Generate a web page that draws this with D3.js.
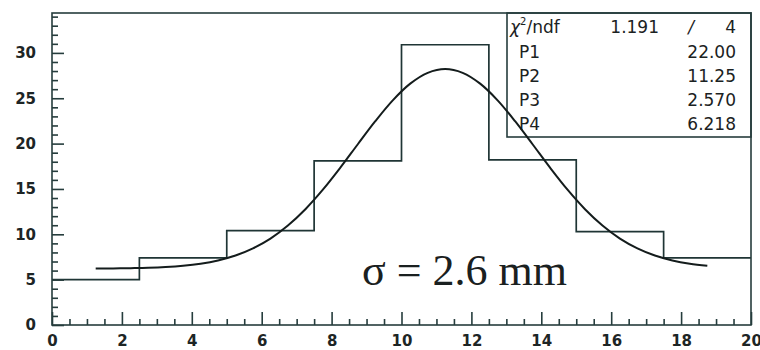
<!DOCTYPE html>
<html>
<head>
<meta charset="utf-8">
<script src="https://cdn.jsdelivr.net/npm/d3@7"></script>
<style>
  html, body { margin: 0; padding: 0; background: #fff; }
  svg { display: block; }
</style>
</head>
<body>
<svg id="chart" width="760" height="350"></svg>
<script>
// Histogram: bin edges and contents
const binEdges = [0, 2.5, 5, 7.5, 10, 12.5, 15, 17.5, 20];
const binCounts = [5.0, 7.4, 10.4, 18.1, 30.9, 18.2, 10.3, 7.4];

// Fitted curve (gaussian + constant), sampled along x
const fitX = [1.25, 1.75, 2.25, 2.75, 3.25, 3.75, 4.25, 4.75, 5.25, 5.75, 6.25, 6.75,
              7.25, 7.75, 8.25, 8.75, 9.25, 9.75, 10.25, 10.75, 11.25, 11.75, 12.25,
              12.75, 13.25, 13.75, 14.25, 14.75, 15.25, 15.75, 16.25, 16.75, 17.25,
              17.75, 18.25, 18.75];
const fitY = [6.23, 6.24, 6.27, 6.31, 6.39, 6.53, 6.76, 7.12, 7.66, 8.45, 9.53, 10.97,
              12.77, 14.92, 17.35, 19.93, 22.47, 24.77, 26.61, 27.80, 28.22, 27.80, 26.61,
              24.77, 22.47, 19.93, 17.35, 14.92, 12.77, 10.97, 9.53, 8.45, 7.66,
              7.12, 6.76, 6.53];

// Axis ticks
const xMajorTicks = [0, 2, 4, 6, 8, 10, 12, 14, 16, 18, 20];
const yMajorTicks = [0, 5, 10, 15, 20, 25, 30];

// Fit statistics box
const statLabels = ["P1", "P2", "P3", "P4"];
const statValues = ["22.00", "11.25", "2.570", "6.218"];
const chi2 = "1.191";
const ndf = "4";

const annotation = "σ = 2.6 mm";

const frame = { left: 52, right: 751, top: 13, bottom: 325 };
const frameColor = "#263d3d";
const histColor = "#1f3535";
const curveColor = "#141c1c";

const svg = d3.select("#chart");

const x = d3.scaleLinear().domain([0, 20]).range([frame.left, frame.right]);
const y = d3.scaleLinear().domain([0, 34.4]).range([frame.bottom, frame.top]);

// Stats box (behind the curve)
const box = { x0: 507, y1: 137 };
svg.append("rect")
  .attr("x", box.x0).attr("y", frame.top)
  .attr("width", frame.right - box.x0).attr("height", box.y1 - frame.top)
  .attr("fill", "#fff").attr("stroke", frameColor).attr("stroke-width", 1.6);

const statFont = "'DejaVu Sans', sans-serif";
const rowBase = [33, 58, 82, 106, 130];
const chiText = svg.append("text")
  .attr("x", 510).attr("y", rowBase[0])
  .attr("font-family", statFont).attr("font-size", 17).attr("fill", "#1b2222");
chiText.append("tspan").attr("font-style", "italic").text("χ");
chiText.append("tspan").attr("font-size", 10).attr("dy", -8).text("2");
chiText.append("tspan").attr("dy", 8).text("/ndf");
svg.append("text").attr("x", 659).attr("y", rowBase[0]).attr("text-anchor", "end")
  .attr("font-family", statFont).attr("font-size", 17).attr("fill", "#1b2222").text(chi2);
svg.append("text").attr("x", 691).attr("y", rowBase[0]).attr("text-anchor", "middle")
  .attr("font-family", statFont).attr("font-size", 17).attr("font-style", "italic")
  .attr("fill", "#1b2222").text("/");
svg.append("text").attr("x", 736).attr("y", rowBase[0]).attr("text-anchor", "end")
  .attr("font-family", statFont).attr("font-size", 17).attr("fill", "#1b2222").text(ndf);

statLabels.forEach((lab, i) => {
  svg.append("text").attr("x", 519).attr("y", rowBase[i + 1])
    .attr("font-family", statFont).attr("font-size", 17).attr("fill", "#1b2222").text(lab);
  svg.append("text").attr("x", 736).attr("y", rowBase[i + 1]).attr("text-anchor", "end")
    .attr("font-family", statFont).attr("font-size", 17).attr("fill", "#1b2222").text(statValues[i]);
});

// Histogram as a step outline
const stepPts = [];
binCounts.forEach((c, i) => {
  stepPts.push([binEdges[i], c]);
  stepPts.push([binEdges[i + 1], c]);
});
svg.append("path")
  .datum(stepPts)
  .attr("fill", "none")
  .attr("stroke", histColor)
  .attr("stroke-width", 1.7)
  .attr("d", d3.line().x(d => x(d[0])).y(d => y(d[1])));

// Fit curve
svg.append("path")
  .datum(fitX.map((v, i) => [v, fitY[i]]))
  .attr("fill", "none")
  .attr("stroke", curveColor)
  .attr("stroke-width", 2)
  .attr("d", d3.line().x(d => x(d[0])).y(d => y(d[1])).curve(d3.curveCatmullRom));

// Axes: ticks point into the plot area
const tickFont = "'DejaVu Sans', sans-serif";
const xMinor = d3.range(0, 20.001, 0.5).filter(v => !xMajorTicks.includes(v));
const yMinor = d3.range(0, 34.001, 1).filter(v => !yMajorTicks.includes(v));

const gxMinor = svg.append("g").attr("transform", `translate(0,${frame.bottom})`)
  .call(d3.axisBottom(x).tickValues(xMinor).tickSizeInner(-6).tickSizeOuter(0).tickFormat(""));
const gx = svg.append("g").attr("transform", `translate(0,${frame.bottom})`)
  .call(d3.axisBottom(x).tickValues(xMajorTicks).tickSizeInner(-13).tickSizeOuter(0)
    .tickPadding(10).tickFormat(d3.format("d")));

const gyMinor = svg.append("g").attr("transform", `translate(${frame.left},0)`)
  .call(d3.axisLeft(y).tickValues(yMinor).tickSizeInner(-6).tickSizeOuter(0).tickFormat(""));
const gy = svg.append("g").attr("transform", `translate(${frame.left},0)`)
  .call(d3.axisLeft(y).tickValues(yMajorTicks).tickSizeInner(-12).tickSizeOuter(0)
    .tickPadding(16).tickFormat(d3.format("d")));

[gx, gy, gxMinor, gyMinor].forEach(g => {
  g.select(".domain").remove();
  g.selectAll(".tick line").attr("stroke", frameColor).attr("stroke-width", 1.6);
  g.selectAll("text").attr("font-family", tickFont).attr("font-size", 15)
    .attr("font-weight", "bold").attr("fill", "#1d2525");
});

// Frame
svg.append("rect")
  .attr("x", frame.left).attr("y", frame.top)
  .attr("width", frame.right - frame.left).attr("height", frame.bottom - frame.top)
  .attr("fill", "none").attr("stroke", frameColor).attr("stroke-width", 1.6);

// Annotation
svg.append("text")
  .attr("x", 362).attr("y", 285)
  .attr("font-family", "'Liberation Serif', 'Times New Roman', serif")
  .attr("font-size", 44).attr("fill", "#1a2020")
  .text(annotation);
</script>
</body>
</html>
